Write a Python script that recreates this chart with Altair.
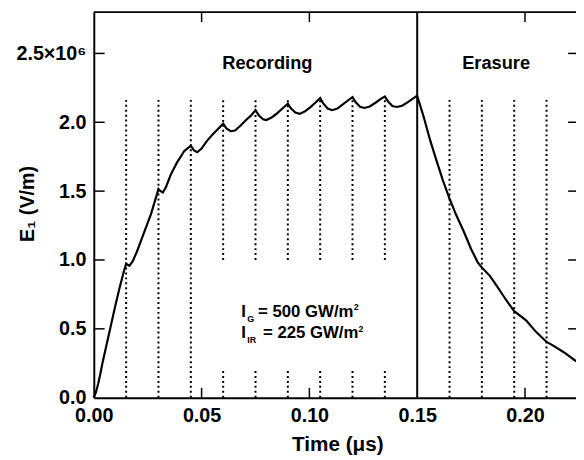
import altair as alt
import pandas as pd

# ---- data ----
time_us = [0.000, 0.001, 0.002, 0.003, 0.004, 0.006, 0.008, 0.010, 0.012, 0.014, 0.015,
           0.0165, 0.018, 0.020, 0.022, 0.0266, 0.030,
           0.0305, 0.032, 0.0335, 0.0357, 0.0385, 0.0419, 0.045,
           0.0465, 0.048, 0.050, 0.0525, 0.055, 0.0575, 0.060,
           0.0615, 0.0635, 0.0655, 0.068, 0.0705, 0.073, 0.075,
           0.0765, 0.0785, 0.080, 0.0825, 0.085, 0.0875, 0.090,
           0.0915, 0.0935, 0.0955, 0.098, 0.1005, 0.103, 0.105,
           0.1065, 0.1085, 0.1105, 0.113, 0.1155, 0.118, 0.120,
           0.1215, 0.1235, 0.1255, 0.128, 0.1305, 0.133, 0.135,
           0.1365, 0.1385, 0.1405, 0.143, 0.1455, 0.148, 0.150,
           0.153, 0.156, 0.159, 0.162, 0.165, 0.168, 0.1716, 0.175, 0.178, 0.180,
           0.1837, 0.187, 0.191, 0.195, 0.2005, 0.205, 0.210,
           0.2127, 0.218, 0.2234, 0.225]
field_Mvm = [0.0, 0.04, 0.10, 0.17, 0.25, 0.39, 0.53, 0.67, 0.80, 0.92, 0.972,
             0.958, 0.99, 1.06, 1.145, 1.337, 1.515,
             1.505, 1.49, 1.53, 1.62, 1.705, 1.79, 1.83,
             1.795, 1.782, 1.81, 1.865, 1.91, 1.95, 1.99,
             1.955, 1.935, 1.94, 1.975, 2.015, 2.05, 2.088,
             2.05, 2.022, 2.016, 2.035, 2.065, 2.10, 2.135,
             2.10, 2.07, 2.061, 2.08, 2.11, 2.145, 2.176,
             2.135, 2.10, 2.088, 2.10, 2.13, 2.16, 2.183,
             2.145, 2.112, 2.104, 2.115, 2.14, 2.168, 2.188,
             2.15, 2.118, 2.111, 2.12, 2.145, 2.172, 2.193,
             2.04, 1.87, 1.72, 1.575, 1.445, 1.33, 1.207, 1.08, 0.985, 0.945,
             0.885, 0.81, 0.715, 0.628, 0.562, 0.48, 0.405,
             0.382, 0.33, 0.268, 0.255]

x_label_values = [0.0, 0.05, 0.10, 0.15, 0.20]
y_label_values = [0, 500000, 1000000, 1500000, 2000000, 2500000]
inner_tick_x = [0.05, 0.10, 0.20]
inner_tick_y = [500000, 1000000, 1500000, 2000000, 2500000]
full_dotted = [0.015, 0.030, 0.045, 0.165, 0.180, 0.195, 0.210]
split_dotted = [0.060, 0.075, 0.090, 0.105, 0.120, 0.135]
dotted_top = 2180000
gap_low, gap_high = 200000, 1000000
boundary_t = 0.15
x_max, y_max = 0.22366, 2800000

W, H = 489, 391
FONT = "Liberation Sans, Arial, DejaVu Sans, sans-serif"

xs = alt.Scale(domain=[0, x_max], nice=False, zero=False)
ys = alt.Scale(domain=[0, y_max], nice=False, zero=False)

curve_df = pd.DataFrame({"t": time_us, "E": [v * 1e6 for v in field_Mvm]})

seg_t, seg_lo, seg_hi = [], [], []
for t in full_dotted:
    seg_t.append(t); seg_lo.append(0); seg_hi.append(dotted_top)
for t in split_dotted:
    seg_t += [t, t]; seg_lo += [0, gap_high]; seg_hi += [gap_low, dotted_top]
dot_df = pd.DataFrame({"t": seg_t, "E": seg_lo, "E2": seg_hi})

one = pd.DataFrame({"a": [0]})

curve = alt.Chart(curve_df).mark_line(color="black", strokeWidth=2.2).encode(
    x=alt.X("t:Q", scale=xs, axis=alt.Axis(
        values=x_label_values, format=".2f", ticks=False, grid=False,
        domainColor="black", domainWidth=2,
        labelFont=FONT, labelFontWeight="bold", labelFontSize=20, labelColor="black",
        labelPadding=18, labelBaseline="middle", labelFlush=False,
        title="Time (\u03bcs)", titleFont=FONT, titleFontWeight="bold", titleFontSize=21,
        titleColor="black", titleX=247, titleY=48, titleBaseline="middle")),
    y=alt.Y("E:Q", scale=ys, axis=alt.Axis(
        values=y_label_values, ticks=False, grid=False,
        domainColor="black", domainWidth=2,
        labelExpr="datum.value == 2500000 ? '2.5\u00d710\u2076' : format(datum.value/1000000, '.1f')",
        labelFont=FONT, labelFontWeight="bold", labelFontSize=20, labelColor="black",
        labelPadding=8, labelFlush=False,
        title="E\u2081 (V/m)", titleFont=FONT, titleFontWeight="bold", titleFontSize=20,
        titleColor="black", titleAngle=270, titleX=-67, titleY=194,
        titleAlign="center", titleBaseline="middle")),
)

dotted = alt.Chart(dot_df).mark_rule(color="black", strokeWidth=2, strokeDash=[2, 3]).encode(
    x="t:Q", y="E:Q", y2="E2:Q")

boundary = alt.Chart(pd.DataFrame({"t": [boundary_t]})).mark_rule(color="black", strokeWidth=2).encode(
    x="t:Q", y=alt.value(0), y2=alt.value(H))

top_frame = alt.Chart(one).mark_rule(color="black", strokeWidth=2).encode(
    x=alt.value(0), x2=alt.value(W), y=alt.value(0))

ty = pd.DataFrame({"E": inner_tick_y})
tx = pd.DataFrame({"t": inner_tick_x})
left_ticks = alt.Chart(ty).mark_rule(color="black", strokeWidth=1.5).encode(
    y="E:Q", x=alt.value(0), x2=alt.value(11))
right_ticks = alt.Chart(ty).mark_rule(color="black", strokeWidth=1.5).encode(
    y="E:Q", x=alt.value(W - 8), x2=alt.value(W))
bottom_ticks = alt.Chart(tx).mark_rule(color="black", strokeWidth=1.5).encode(
    x="t:Q", y=alt.value(H - 10), y2=alt.value(H))
top_ticks = alt.Chart(tx).mark_rule(color="black", strokeWidth=1.5).encode(
    x="t:Q", y=alt.value(0), y2=alt.value(10))


def txt(s, x, y, dx=0, dy=0, size=17, align="left", baseline="alphabetic"):
    return alt.Chart(one).mark_text(
        text=s, font=FONT, fontWeight="bold", fontSize=size, color="black",
        align=align, baseline=baseline, dx=dx, dy=dy).encode(
        x=alt.datum(x), y=alt.datum(y))


anno_t = 0.0684
line1, line2 = 586000, 430000
texts = [
    txt("Recording", 0.0805, 2430000, size=18.5, align="center", baseline="middle"),
    txt("Erasure", 0.1866, 2430000, size=18.5, align="center", baseline="middle"),
    txt("I", anno_t, line1),
    txt("G", anno_t, line1, dx=6, dy=5, size=9),
    txt("= 500 GW/m", anno_t, line1, dx=17),
    txt("2", anno_t, line1, dx=114, dy=-7, size=9),
    txt("I", anno_t, line2),
    txt("IR", anno_t, line2, dx=6, dy=5, size=9),
    txt("= 225 GW/m", anno_t, line2, dx=22),
    txt("2", anno_t, line2, dx=119, dy=-7, size=9),
]

chart = alt.layer(
    curve, dotted, boundary, top_frame, left_ticks, right_ticks, bottom_ticks, top_ticks, *texts
).properties(
    width=W, height=H,
    autosize=alt.AutoSizeParams(type="none"),
    padding={"left": 87, "top": 1, "right": 0, "bottom": 59},
    background="white",
).configure_view(stroke=None)

chart.save("out.html", embed_options={"renderer": "svg", "actions": False})
